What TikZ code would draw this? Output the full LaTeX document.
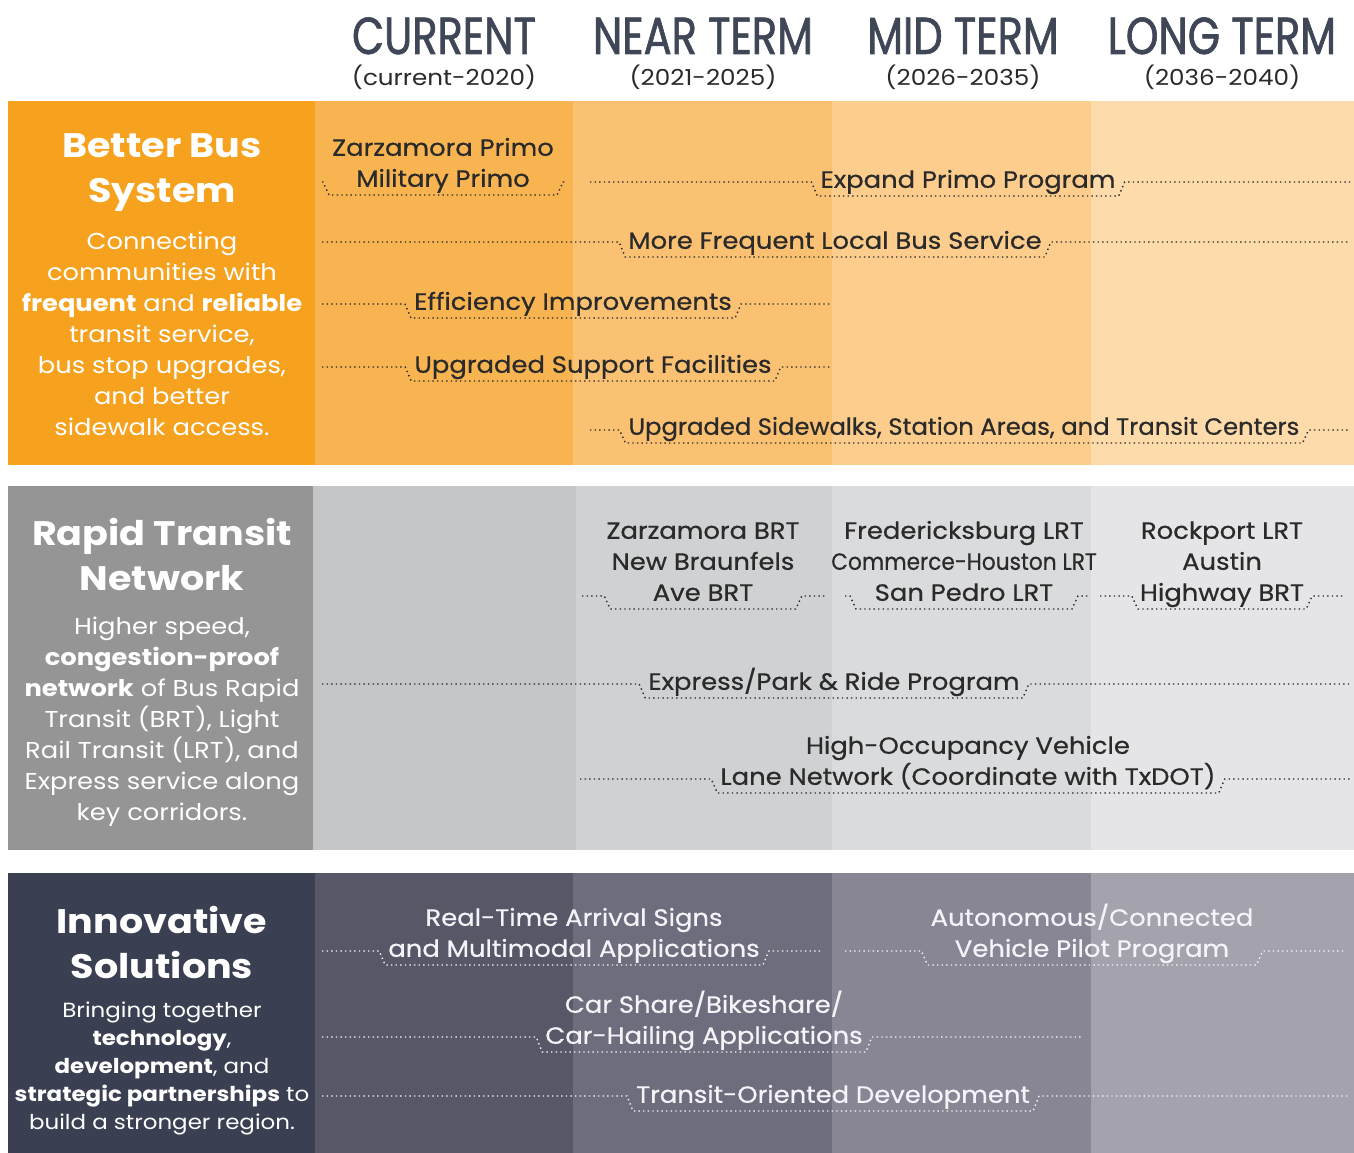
\documentclass[tikz,border=0pt]{standalone}
\usepackage{fontspec}
\setmainfont{Poppins}[FakeStretch=1.12]
\newfontfamily\labelfont{Poppins}[FakeBold=0.6, FakeStretch=1.1]
\newfontfamily\headfont{Poppins}[FakeStretch=0.8, FakeBold=1.2]
\usepackage{graphicx}
\usetikzlibrary{calc}
\definecolor{orL}{HTML}{F6A21E}
\definecolor{orC}{HTML}{F8B451}
\definecolor{orN}{HTML}{FAC173}
\definecolor{orM}{HTML}{FCCD8C}
\definecolor{orG}{HTML}{FDDBAA}
\definecolor{grL}{HTML}{959595}
\definecolor{grC}{HTML}{C5C6C8}
\definecolor{grN}{HTML}{D0D1D3}
\definecolor{grM}{HTML}{DADBDD}
\definecolor{grG}{HTML}{E5E5E7}
\definecolor{dkL}{HTML}{3A4052}
\definecolor{dkC}{HTML}{565767}
\definecolor{dkN}{HTML}{6E6D7D}
\definecolor{dkM}{HTML}{888694}
\definecolor{dkG}{HTML}{A4A2AC}
\definecolor{headc}{HTML}{3F4757}
\definecolor{labelc}{HTML}{2A2A2A}
\definecolor{lightc}{HTML}{F4F4F8}
\newcommand\linkpath[4]{\draw[#4] (#1) -- ($(#2.south west |- #1)+(-6,0)$) -- (#2.south west) -- (#2.south east) -- ($(#2.south east |- #3)+(6,0)$) -- (#3);}
\begin{document}
\begin{tikzpicture}[x=1pt,y=-1pt,
  colhead/.style={inner sep=0pt, anchor=base, text depth=0pt, text=headc, font=\headfont\fontsize{52}{52}\selectfont},
  colsub/.style={inner sep=0pt, anchor=base, text=labelc, font=\fontsize{22}{24}\selectfont},
  lbl/.style={anchor=south, inner xsep=3pt, inner ysep=8pt, text depth=0pt, align=center, text=labelc, font=\labelfont\fontsize{23.5}{31}\selectfont},
  lblw/.style={lbl, text=lightc},
  dl/.style={line width=1.4pt, dash pattern=on 1.4pt off 3.2pt, draw=labelc},
  dlw/.style={dl, draw=lightc},
  title/.style={inner sep=0pt, align=center, text=white, font=\bfseries\fontsize{34}{45}\selectfont},
  body/.style={inner sep=0pt, align=center, text=white, font=\fontsize{23}{31}\selectfont},
  bodysmall/.style={inner sep=0pt, align=center, text=white, font=\fontsize{20.5}{28}\selectfont}]
\useasboundingbox (0,0) rectangle (1354,1153);
\fill[white] (0,0) rectangle (1354,1153);
% column headers
\node[colhead] (hc) at (444,54) {CURRENT};
\node[colhead] (hn) at (703,54) {NEAR TERM};
\node[colhead] (hm) at (963,54) {MID TERM};
\node[colhead] (hg) at (1222,54) {LONG TERM};
\node[colsub] (sc) at (444,86) {(current-2020)};
\node[colsub] (sn) at (703,86) {(2021-2025)};
\node[colsub] (sm) at (963,86) {(2026-2035)};
\node[colsub] (sg) at (1222,86) {(2036-2040)};
% band backgrounds
\fill[orL] (8,101) rectangle (315,465);
\fill[orC] (315,101) rectangle (573,465);
\fill[orN] (573,101) rectangle (832,465);
\fill[orM] (832,101) rectangle (1091,465);
\fill[orG] (1091,101) rectangle (1354,465);
\fill[grL] (8,486) rectangle (313,850);
\fill[grC] (313,486) rectangle (576,850);
\fill[grN] (576,486) rectangle (832,850);
\fill[grM] (832,486) rectangle (1091,850);
\fill[grG] (1091,486) rectangle (1354,850);
\fill[dkL] (8,873) rectangle (315,1153);
\fill[dkC] (315,873) rectangle (573,1153);
\fill[dkN] (573,873) rectangle (832,1153);
\fill[dkM] (832,873) rectangle (1091,1153);
\fill[dkG] (1091,873) rectangle (1354,1153);
% left column texts
\node[title] (t1) at (162,173) {Better Bus\\System};
\node[body] (b1) at (162,334) {Connecting\\communities with\\\textbf{frequent} and \textbf{reliable}\\transit service,\\bus stop upgrades,\\and better\\sidewalk access.};
\node[title] (t2) at (162,555) {Rapid Transit\\Network};
\node[body] (b2) at (162,722) {Higher speed,\\\textbf{congestion-proof}\\\textbf{network} of Bus Rapid\\Transit (BRT), Light\\Rail Transit (LRT), and\\Express service along\\key corridors.};
\node[title] (t3) at (162,943) {Innovative\\Solutions};
\node[bodysmall] (b3) at (162,1068) {Bringing together\\\textbf{technology},\\\textbf{development}, and\\\textbf{strategic partnerships} to\\build a stronger region.};
% band 1 labels
\node[lbl] (l1) at (443,195) {Zarzamora Primo\\Military Primo};
\coordinate (l1a) at (322,182); \coordinate (l1b) at (566,182);
\linkpath{l1a}{l1}{l1b}{dl}
\node[lbl] (l2) at (968,196) {Expand Primo Program};
\coordinate (l2a) at (590,182); \coordinate (l2b) at (1350,182);
\linkpath{l2a}{l2}{l2b}{dl}
\node[lbl] (l3) at (835,257) {More Frequent Local Bus Service};
\coordinate (l3a) at (322,242); \coordinate (l3b) at (1350,242);
\linkpath{l3a}{l3}{l3b}{dl}
\node[lbl] (l4) at (573,318) {Efficiency Improvements};
\coordinate (l4a) at (322,304); \coordinate (l4b) at (830,304);
\linkpath{l4a}{l4}{l4b}{dl}
\node[lbl] (l5) at (593,381) {Upgraded Support Facilities};
\coordinate (l5a) at (322,367); \coordinate (l5b) at (830,367);
\linkpath{l5a}{l5}{l5b}{dl}
\node[lbl] (l6) at (964,443) {\scalebox{0.94}[1]{Upgraded Sidewalks, Station Areas, and Transit Centers}};
\coordinate (l6a) at (590,430); \coordinate (l6b) at (1350,430);
\linkpath{l6a}{l6}{l6b}{dl}
% band 2 labels
\node[lbl, inner xsep=-4pt] (l7) at (703,609) {Zarzamora BRT\\New Braunfels\\Ave BRT};
\coordinate (l7a) at (582,596); \coordinate (l7b) at (825,596);
\linkpath{l7a}{l7}{l7b}{dl}
\node[lbl, inner xsep=-25pt] (l8) at (964,609) {Fredericksburg LRT\\\scalebox{0.84}[1]{Commerce-Houston LRT}\\San Pedro LRT};
\coordinate (l8a) at (845,596); \coordinate (l8b) at (1090,596);
\linkpath{l8a}{l8}{l8b}{dl}
\node[lbl, inner xsep=2pt] (l9) at (1222,609) {Rockport LRT\\Austin\\Highway BRT};
\coordinate (l9a) at (1100,596); \coordinate (l9b) at (1345,596);
\linkpath{l9a}{l9}{l9b}{dl}
\node[lbl] (l10) at (834,698) {Express/Park \& Ride Program};
\coordinate (l10a) at (322,684); \coordinate (l10b) at (1350,684);
\linkpath{l10a}{l10}{l10b}{dl}
\node[lbl] (l11) at (968,793) {High-Occupancy Vehicle\\Lane Network (Coordinate with TxDOT)};
\coordinate (l11a) at (580,779); \coordinate (l11b) at (1350,779);
\linkpath{l11a}{l11}{l11b}{dl}
% band 3 labels
\node[lblw] (l12) at (574,965) {Real-Time Arrival Signs\\and Multimodal Applications};
\coordinate (l12a) at (322,951); \coordinate (l12b) at (822,951);
\linkpath{l12a}{l12}{l12b}{dlw}
\node[lblw] (l13) at (1092,965) {Autonomous/Connected\\Vehicle Pilot Program};
\coordinate (l13a) at (845,951); \coordinate (l13b) at (1345,951);
\linkpath{l13a}{l13}{l13b}{dlw}
\node[lblw] (l14) at (704,1052) {Car Share/Bikeshare/\\Car-Hailing Applications};
\coordinate (l14a) at (322,1037); \coordinate (l14b) at (1082,1037);
\linkpath{l14a}{l14}{l14b}{dlw}
\node[lblw] (l15) at (833,1111) {Transit-Oriented Development};
\coordinate (l15a) at (322,1096); \coordinate (l15b) at (1350,1096);
\linkpath{l15a}{l15}{l15b}{dlw}
\end{tikzpicture}
\end{document}
